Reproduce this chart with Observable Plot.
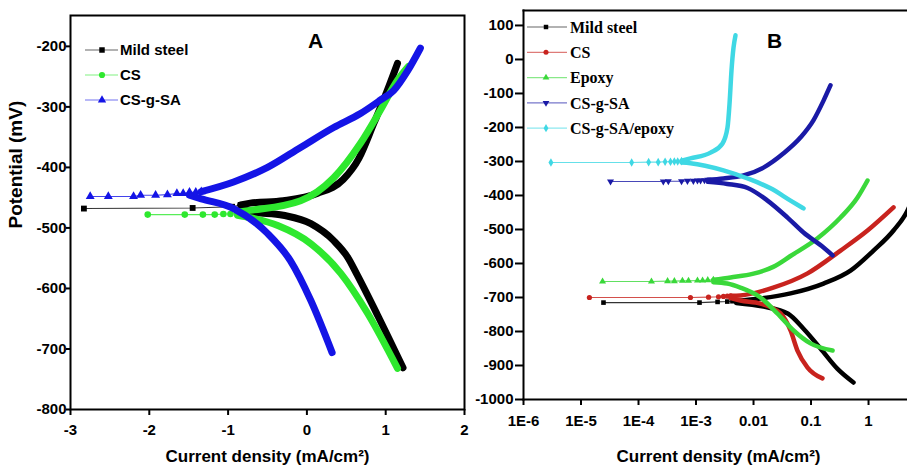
<!DOCTYPE html>
<html><head><meta charset="utf-8">
<script src="https://cdn.jsdelivr.net/npm/d3@7"></script>
<script src="https://cdn.jsdelivr.net/npm/@observablehq/plot@0.6"></script>
<style>
body{margin:0;background:#fff}
#wrap{position:relative;width:907px;height:474px;overflow:hidden;background:#fff}
#pa,#pb{position:absolute;top:0}
#pa{left:0}#pb{left:470px}
#ov{position:absolute;left:0;top:0}
</style></head><body>
<div id="wrap"><div id="pa"></div><div id="pb"></div><svg id="ov" width="907" height="474"></svg></div>
<script>
// ---------- Panel A data: x = log current density, y = potential (mV) ----------
const aXTicks = [-3, -2, -1, 0, 1, 2];
const aYTicks = [-800, -700, -600, -500, -400, -300, -200];
const aNames = ["Mild steel", "CS", "CS-g-SA"];
const aColors = ["#000000", "#2ee82e", "#1414e6"];

const msA_markers = [[-2.83,-468],[-1.45,-467],[-0.95,-465],[-0.84,-462]];
const msA_anodic = [[-0.84,-462],[-0.72,-459],[-0.30,-455],[0.13,-443],[0.46,-420],[0.66,-385],[0.85,-327],[1.02,-273],[1.15,-228]];
const msA_cathodic = [[-0.84,-468],[-0.72,-473],[-0.30,-479],[0.05,-493],[0.34,-521],[0.52,-549],[0.64,-578],[0.90,-645],[1.22,-731]];

const csA_markers = [[-2.02,-478],[-1.55,-478],[-1.32,-478],[-1.17,-478],[-1.06,-477],[-0.97,-477],[-0.88,-476]];
const csA_anodic = [[-0.88,-474],[-0.72,-471],[-0.08,-455],[0.34,-417],[0.68,-360],[0.93,-306],[1.15,-256],[1.29,-233]];
const csA_cathodic = [[-0.88,-479],[-0.72,-483],[-0.37,-496],[0.05,-526],[0.43,-575],[0.77,-641],[1.15,-732]];

const sgA_markers = [[-2.75,-448],[-2.52,-448],[-2.20,-448],[-2.11,-446],[-1.92,-446],[-1.77,-445],[-1.65,-443],[-1.57,-443],[-1.49,-441],[-1.41,-441],[-1.34,-440]];
const sgA_anodic = [[-1.34,-440],[-0.93,-424],[-0.50,-400],[-0.08,-367],[0.34,-334],[0.68,-311],[0.93,-289],[1.10,-273],[1.28,-240],[1.44,-203]];
const sgA_cathodic = [[-1.49,-446],[-1.34,-452],[-0.93,-468],[-0.50,-509],[-0.21,-554],[0.05,-620],[0.32,-706]];

// ---------- Panel B data: x = current density (mA/cm2, log axis), y = potential (mV) ----------
const bXTicks = [1e-6, 1e-5, 1e-4, 1e-3, 0.01, 0.1, 1];
const bXTickLabels = ["1E-6", "1E-5", "1E-4", "1E-3", "0.01", "0.1", "1"];
const bYTicks = [-1000, -900, -800, -700, -600, -500, -400, -300, -200, -100, 0, 100];
const bNames = ["Mild steel", "CS", "Epoxy", "CS-g-SA", "CS-g-SA/epoxy"];
const bColors = ["#000000", "#c8231e", "#3ad83a", "#1a1aa6", "#3fd8e4"];

const msB_markers = [[2.46e-5,-715],[1.15e-3,-715],[2.37e-3,-713],[3.5e-3,-712],[4.3e-3,-711],[5.0e-3,-710]];
const msB_anodic = [[5.0e-3,-710],[1.32e-2,-703],[4.4e-2,-688],[0.165,-659],[0.486,-621],[1.22,-562],[2.72,-503],[4.77,-444],[6.6,-385]];
const msB_cathodic = [[5.0e-3,-716],[1.5e-2,-727],[4.0e-2,-748],[7.4e-2,-792],[0.146,-850],[0.289,-910],[0.548,-950]];

const csB_markers = [[1.4e-5,-700],[8.0e-4,-700],[1.65e-3,-699],[2.46e-3,-698],[3.0e-3,-697],[3.5e-3,-696],[4.0e-3,-695]];
const csB_anodic = [[4.0e-3,-695],[5.9e-3,-694],[2.2e-2,-671],[8.7e-2,-629],[0.326,-562],[0.96,-503],[2.72,-435]];
const csB_cathodic = [[4.0e-3,-702],[5.9e-3,-709],[1.32e-2,-718],[2.95e-2,-747],[4.4e-2,-797],[5.8e-2,-856],[8.7e-2,-906],[0.158,-938]];

const epB_markers = [[2.37e-5,-653],[1.68e-4,-653],[3.2e-4,-652],[4.2e-4,-652],[5.8e-4,-651],[7.4e-4,-651],[1.06e-3,-650],[1.3e-3,-650],[1.6e-3,-649],[2.0e-3,-648]];
const epB_anodic = [[2.0e-3,-648],[4.0e-3,-641],[1.0e-2,-630],[2.2e-2,-610],[4.4e-2,-578],[0.13,-526],[0.326,-465],[0.644,-406],[0.96,-356]];
const epB_cathodic = [[2.0e-3,-655],[3.5e-3,-659],[5.9e-3,-671],[1.32e-2,-700],[2.6e-2,-747],[4.97e-2,-797],[9.8e-2,-835],[0.237,-856]];

const sgB_markers = [[3.26e-5,-359],[2.7e-4,-359],[3.3e-4,-358],[5.6e-4,-358],[7.1e-4,-357],[9.0e-4,-357],[1.06e-3,-356],[1.2e-3,-356],[1.4e-3,-355],[1.6e-3,-354]];
const sgB_anodic = [[1.6e-3,-354],[3.0e-3,-350],[6.7e-3,-341],[1.49e-2,-318],[3.33e-2,-276],[6.6e-2,-229],[0.110,-179],[0.165,-121],[0.218,-76]];
const sgB_cathodic = [[1.6e-3,-360],[3.5e-3,-366],[7.9e-3,-378],[1.75e-2,-415],[3.9e-2,-465],[7.4e-2,-509],[0.165,-553],[0.237,-576]];

const seB_markers = [[3.0e-6,-303],[7.6e-5,-303],[1.5e-4,-302],[2.2e-4,-302],[2.9e-4,-301],[3.6e-4,-301],[4.2e-4,-300],[4.8e-4,-300],[5.6e-4,-299]];
const seB_anodic = [[5.6e-4,-298],[8.0e-4,-291],[1.79e-3,-274],[2.89e-3,-247],[3.53e-3,-200],[3.83e-3,-129],[4.14e-3,-32],[4.49e-3,35],[4.86e-3,71]];
const seB_cathodic = [[5.6e-4,-303],[8.0e-4,-305],[3.0e-3,-326],[7.9e-3,-350],[1.98e-2,-379],[4.4e-2,-415],[7.4e-2,-438]];

const xLabel = "Current density (mA/cm²)";
const yLabel = "Potential (mV)";

// ---------- symbols ----------
const sqrt3 = Math.sqrt(3);
const triangleDown = {draw(ctx, size) {
  const y = -Math.sqrt(size / (sqrt3 * 3));
  ctx.moveTo(0, -y * 2); ctx.lineTo(-sqrt3 * y, y); ctx.lineTo(sqrt3 * y, y); ctx.closePath();
}};
const aSymbols = ["square", "circle", "triangle"];
const bSymbols = ["square", "circle", "triangle", triangleDown, "diamond"];

const seriesA = [
  {markers: msA_markers, anodic: msA_anodic, cathodic: msA_cathodic},
  {markers: csA_markers, anodic: csA_anodic, cathodic: csA_cathodic},
  {markers: sgA_markers, anodic: sgA_anodic, cathodic: sgA_cathodic}
];
const seriesB = [
  {markers: msB_markers, anodic: msB_anodic, cathodic: msB_cathodic},
  {markers: csB_markers, anodic: csB_anodic, cathodic: csB_cathodic},
  {markers: epB_markers, anodic: epB_anodic, cathodic: epB_cathodic},
  {markers: sgB_markers, anodic: sgB_anodic, cathodic: sgB_cathodic},
  {markers: seB_markers, anodic: seB_anodic, cathodic: seB_cathodic}
];

function seriesMarks(series, colors, symbols, w, r) {
  const marks = [];
  series.forEach((s, k) => {
    const c = colors[k];
    marks.push(Plot.line(s.markers, {x: d => d[0], y: d => d[1], stroke: c, strokeWidth: 1.1, strokeOpacity: 0.8}));
    marks.push(Plot.line(s.cathodic, {x: d => d[0], y: d => d[1], stroke: c, strokeWidth: w, curve: "monotone-x", clip: true}));
    marks.push(Plot.line(s.anodic, {x: d => d[0], y: d => d[1], stroke: c, strokeWidth: w, curve: "monotone-x", clip: true}));
    marks.push(Plot.dot(s.markers, {x: d => d[0], y: d => d[1], fill: c, stroke: "none", symbol: symbols[k], r: r}));
  });
  return marks;
}

const numFmt = d => String(d);

const pa = Plot.plot({
  width: 470, height: 474,
  marginLeft: 70, marginRight: 6, marginTop: 15, marginBottom: 65,
  style: {fontFamily: "'Liberation Sans', Arial, sans-serif", fontSize: "15px", fontWeight: "bold", background: "transparent", color: "#000"},
  x: {domain: [-3, 2]},
  y: {domain: [-800, -149]},
  marks: [
    Plot.axisX({ticks: aXTicks, tickSize: 6, tickPadding: 9, label: null, tickFormat: numFmt, strokeWidth: 2}),
    Plot.axisY({ticks: aYTicks, tickSize: 4, tickPadding: 0, label: null, tickFormat: numFmt, strokeWidth: 2}),
    Plot.frame({stroke: "#000", strokeWidth: 2}),
    ...seriesMarks(seriesA, aColors, aSymbols, 7, 3.3),
    Plot.text(["A"], {frameAnchor: "top", lineAnchor: "top", dx: 48, dy: 18, fontSize: 21, fontWeight: "bold"}),
    Plot.text([xLabel], {frameAnchor: "bottom", lineAnchor: "top", dy: 40, fontSize: 17, fontWeight: "bold"}),
    Plot.text([yLabel], {frameAnchor: "left", dx: -55, dy: 16, rotate: -90, fontSize: 19, fontWeight: "bold"})
  ]
});
document.getElementById("pa").appendChild(pa);

const pb = Plot.plot({
  width: 437, height: 474,
  marginLeft: 53, marginRight: 0, marginTop: 10, marginBottom: 75,
  style: {fontFamily: "'Liberation Sans', Arial, sans-serif", fontSize: "15px", fontWeight: "bold", background: "transparent", color: "#000"},
  x: {type: "log", domain: [1e-6, 4.76]},
  y: {domain: [-1000, 144]},
  marks: [
    Plot.axisX({ticks: bXTicks, tickSize: 6, tickPadding: 10, label: null, tickFormat: d => bXTickLabels[bXTicks.indexOf(d)], strokeWidth: 2}),
    Plot.axisY({ticks: bYTicks, tickSize: 8, tickPadding: 2, label: null, tickFormat: numFmt, strokeWidth: 2}),
    Plot.frame({anchor: "left", stroke: "#000", strokeWidth: 2}),
    Plot.frame({anchor: "top", stroke: "#000", strokeWidth: 2}),
    Plot.frame({anchor: "bottom", stroke: "#000", strokeWidth: 2}),
    ...seriesMarks(seriesB, bColors, bSymbols, 4.5, 2.6),
    Plot.text(["B"], {frameAnchor: "top", lineAnchor: "top", dx: 59, dy: 23, fontSize: 21, fontWeight: "bold"}),
    Plot.text([xLabel], {frameAnchor: "bottom", lineAnchor: "top", dx: 3, dy: 50, fontSize: 17, fontWeight: "bold"})
  ]
});
document.getElementById("pb").appendChild(pb);

// ---------- legends ----------
const ov = d3.select("#ov");
function legend(names, colors, symbols, x0, x1, xs, xt, y0, dy, font, size, symSize) {
  names.forEach((n, i) => {
    const y = y0 + i * dy;
    const g = ov.append("g");
    g.append("line").attr("x1", x0).attr("x2", x1).attr("y1", y).attr("y2", y)
      .attr("stroke", colors[i]).attr("stroke-width", 1.2).attr("stroke-opacity", 0.6);
    const sym = typeof symbols[i] === "string"
      ? {square: d3.symbolSquare, circle: d3.symbolCircle, triangle: d3.symbolTriangle, diamond: d3.symbolDiamond}[symbols[i]]
      : symbols[i];
    g.append("path").attr("d", d3.symbol(sym, symSize)()).attr("transform", `translate(${xs},${y})`).attr("fill", colors[i]);
    g.append("text").attr("x", xt).attr("y", y).attr("dy", "0.35em")
      .attr("font-family", font).attr("font-size", size).attr("font-weight", "bold").attr("fill", "#000").text(n);
  });
}
legend(aNames, aColors, aSymbols, 85, 118, 102, 120, 50, 25, "'Liberation Sans', Arial, sans-serif", 15, 30);
legend(bNames, bColors, bSymbols, 527, 567, 546, 570, 27, 25.3, "'Liberation Serif', 'Times New Roman', serif", 16, 20);
</script>
</body></html>
